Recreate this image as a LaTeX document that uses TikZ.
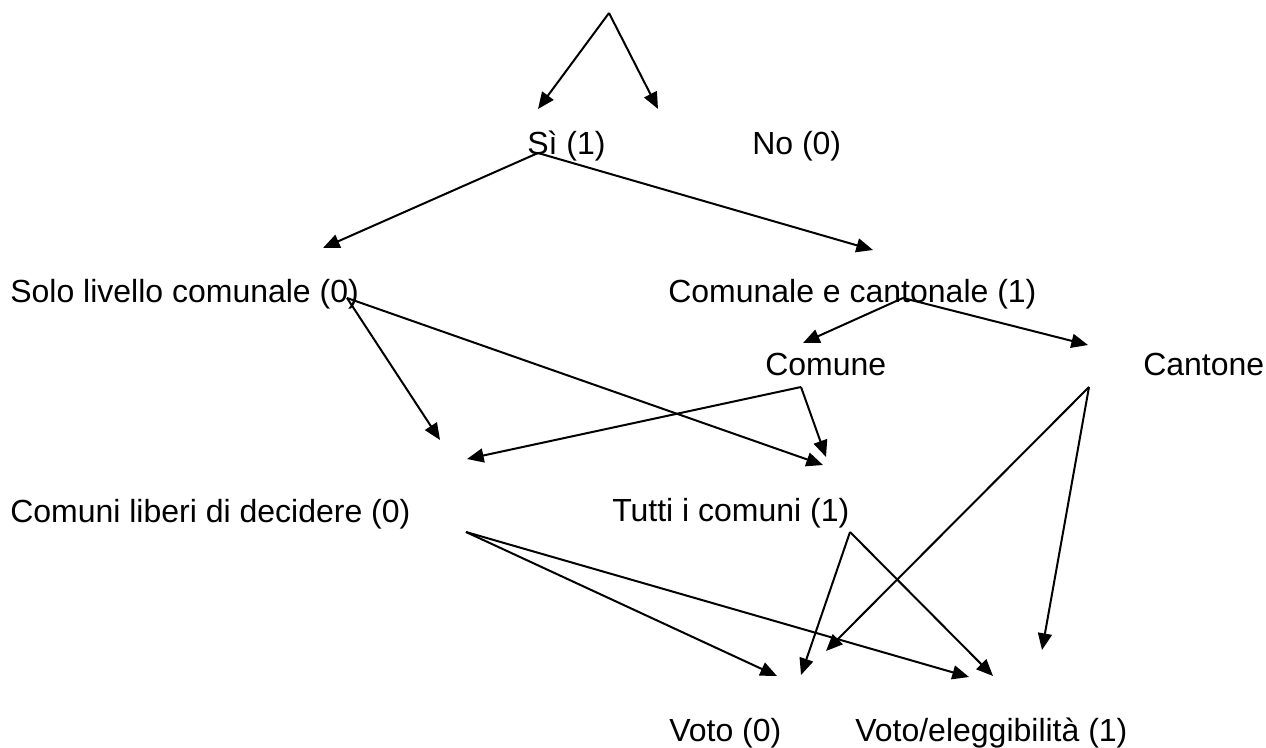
\documentclass[tikz,border=0pt]{standalone}
\usepackage{fontspec}
\setmainfont{Liberation Sans}
\usetikzlibrary{arrows.meta}
\begin{document}
\begin{tikzpicture}[x=0.75pt,y=-0.75pt,
  lbl/.style={anchor=base west,inner sep=0pt,font=\fontsize{24}{28}\selectfont},
  arr/.style={line width=1.5pt,-{Triangle[length=12.5pt,width=10.5pt]}}]
\useasboundingbox (0,0) rectangle (1266,747);
% labels
\node[lbl] (si) at (527,154) {Sì (1)};
\node[lbl] (no) at (752,154) {No (0)};
\node[lbl] (solo) at (10,302) {Solo livello comunale (0)};
\node[lbl] (comcant) at (668,302) {Comunale e cantonale (1)};
\node[lbl] (comune) at (765,375) {Comune};
\node[lbl] (cantone) at (1143,375) {Cantone};
\node[lbl] (liberi) at (10,522) {Comuni liberi di decidere (0)};
\node[lbl] (tutti) at (612,521) {Tutti i comuni (1)};
\node[lbl] (voto) at (669,741) {Voto (0)};
\node[lbl] (voel) at (855,741) {Voto/eleggibilità (1)};
% connector points
\coordinate (top) at (609,13);
\coordinate (siTip) at (538,109);
\coordinate (noTip) at (658,109);
\coordinate (siA) at (538,153);
\coordinate (soloTip) at (323,248);
\coordinate (ccTip) at (873,250);
\coordinate (soloA) at (347,298);
\coordinate (liberiTipA) at (440,440);
\coordinate (tuttiTipA) at (823,465);
\coordinate (ccA) at (903,298);
\coordinate (comuneTip) at (803,343);
\coordinate (cantoneTip) at (1088,345);
\coordinate (comuneA) at (801,387);
\coordinate (liberiTipB) at (467,459);
\coordinate (tuttiTipB) at (826,457);
\coordinate (cantA) at (1089,387);
\coordinate (votoTipC) at (826,651);
\coordinate (voelTipC) at (1042,650);
\coordinate (liberiA) at (466,532);
\coordinate (votoTipA) at (777,676);
\coordinate (voelTipA) at (969,677);
\coordinate (tuttiA) at (850,532);
\coordinate (votoTipB) at (801,675);
\coordinate (voelTipB) at (993,676);
% connectors
\draw[arr] (top) -- (siTip);
\draw[arr] (top) -- (noTip);
\draw[arr] (siA) -- (soloTip);
\draw[arr] (siA) -- (ccTip);
\draw[arr] (soloA) -- (liberiTipA);
\draw[arr] (soloA) -- (tuttiTipA);
\draw[arr] (ccA) -- (comuneTip);
\draw[arr] (ccA) -- (cantoneTip);
\draw[arr] (comuneA) -- (liberiTipB);
\draw[arr] (comuneA) -- (tuttiTipB);
\draw[arr] (cantA) -- (votoTipC);
\draw[arr] (cantA) -- (voelTipC);
\draw[arr] (liberiA) -- (votoTipA);
\draw[arr] (liberiA) -- (voelTipA);
\draw[arr] (tuttiA) -- (votoTipB);
\draw[arr] (tuttiA) -- (voelTipB);
\end{tikzpicture}
\end{document}
